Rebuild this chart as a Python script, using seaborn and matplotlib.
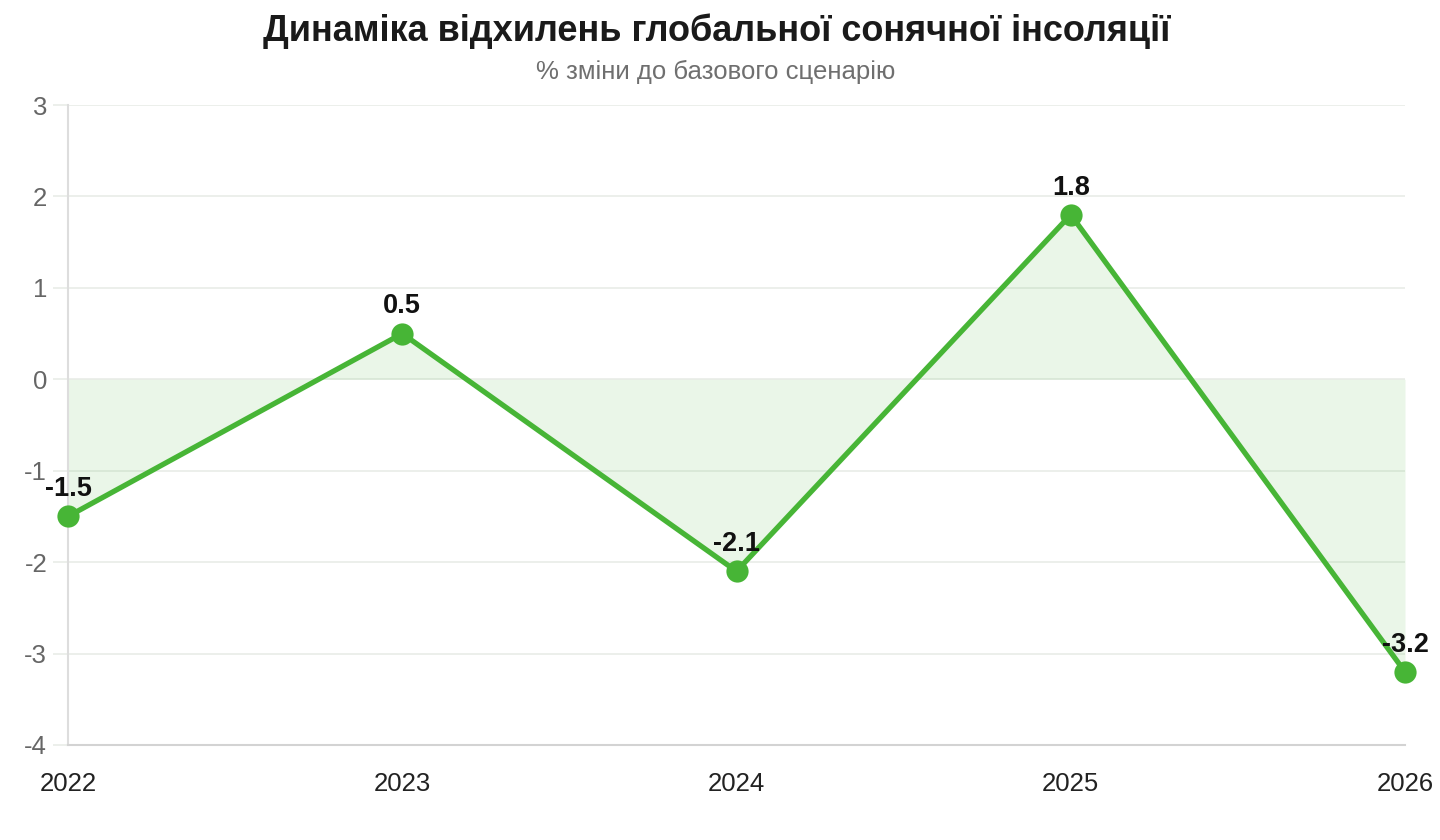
import matplotlib
matplotlib.use("Agg")
import matplotlib.pyplot as plt
import seaborn as sns
import pandas as pd

years = [2022, 2023, 2024, 2025, 2026]
deviation = [-1.5, 0.5, -2.1, 1.8, -3.2]
y_ticks = [-4, -3, -2, -1, 0, 1, 2, 3]

title = "Динаміка відхилень глобальної сонячної інсоляції"
subtitle = "% зміни до базового сценарію"

green = "#47b536"

sns.set_theme(style="white")
plt.rcParams['font.family'] = ['Liberation Sans', 'DejaVu Sans']

df = pd.DataFrame({"year": years, "value": deviation})

fig = plt.figure(figsize=(14.4, 8.4), dpi=100)
ax = fig.add_axes([68 / 1440, 1 - 745 / 840, (1405 - 68) / 1440, (745 - 105) / 840])

# fill between the line and zero
ax.fill_between(df["year"], df["value"], 0, color=green, alpha=0.11, linewidth=0, zorder=1)

sns.lineplot(data=df, x="year", y="value", ax=ax, color=green, linewidth=3.8,
             marker="o", markersize=16, markeredgewidth=0, zorder=3, clip_on=False)

for x, y in zip(years, deviation):
    ax.annotate(f"{y:g}", (x, y), xytext=(0, 19.5), textcoords="offset points",
                ha="center", va="center", fontsize=19.5, fontweight="bold", color="#111111",
                zorder=4, annotation_clip=False)

ax.set_xlim(2022, 2026)
ax.set_ylim(-4, 3)
ax.set_yticks(y_ticks)
ax.set_yticklabels([str(t) for t in y_ticks])
ax.set_xticks(years)
ax.set_xticklabels([str(y) for y in years])
ax.set_xlabel("")
ax.set_ylabel("")

ax.grid(axis="y", color="#e9ece8", linewidth=1.2)
ax.grid(axis="x", visible=False)
ax.set_axisbelow(True)

for side in ["top", "right"]:
    ax.spines[side].set_visible(False)
ax.spines["left"].set_color("#dddddd")
ax.spines["left"].set_linewidth(1.5)
ax.spines["bottom"].set_color("#d3d3d3")
ax.spines["bottom"].set_linewidth(1.5)

ax.tick_params(axis="y", length=11, width=1.2, color="#e9ece8", pad=4,
               labelsize=18.5, labelcolor="#666666", left=True)
ax.tick_params(axis="x", length=0, pad=19.5, labelsize=18.5, labelcolor="#222222")

fig.text(0.498, 1 - 31.5 / 840, title, ha="center", va="center",
         fontsize=26, fontweight="bold", color="#1a1a1a")
fig.text(0.497, 1 - 71.5 / 840, subtitle, ha="center", va="center",
         fontsize=18.5, color="#6f6f6f")

fig.savefig("out.png", dpi=100)
